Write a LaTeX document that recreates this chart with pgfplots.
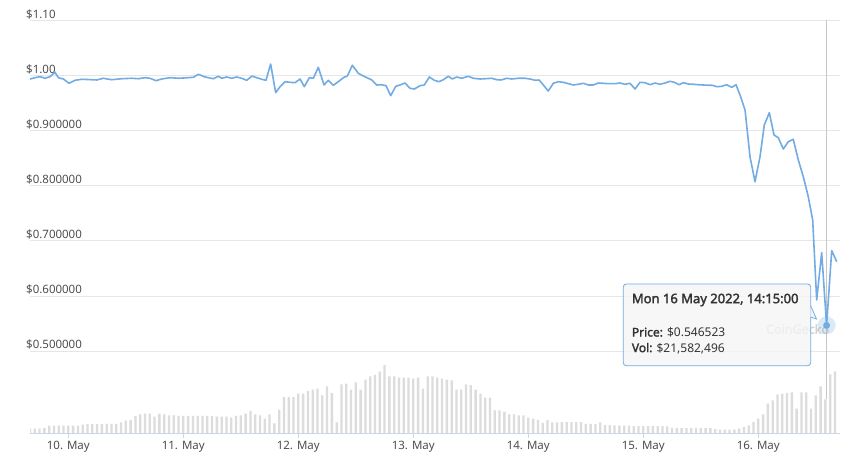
\documentclass[border=0pt]{standalone}
\usepackage{pgfplots}
\pgfplotsset{compat=1.18}
\usepackage{fontspec}
\setmainfont{Noto Sans}[AutoFakeBold=2.2]
\definecolor{linecol}{RGB}{115,172,226}
\definecolor{gridcol}{HTML}{E6E6E6}
\definecolor{axiscol}{HTML}{CCD6EB}
\definecolor{barcol}{RGB}{220,220,220}
\definecolor{labelcol}{HTML}{4D4D4D}
\definecolor{textcol}{HTML}{333333}
\definecolor{tipbg}{HTML}{F5F5F5}

\pgfplotstableread{
h vol
-8 3.3
-7 3.3
-6 3.3
-5 3.6
-4 5.2
-3 5.2
-2 5.2
-1 5.2
0 5.2
1 5.2
2 5.2
3 5.8
4 6.1
5 6.1
6 6.1
7 6.3
8 6.4
9 6.4
10 6.4
11 7.3
12 8.3
13 8.6
14 11.1
15 12.3
16 12.7
17 12.7
18 10.8
19 12.7
20 12.3
21 11.7
22 11.7
23 11.4
24 11.4
25 11.4
26 11.4
27 11.4
28 11.4
29 11.4
30 11.4
31 10.8
32 10.8
33 10.8
34 10.2
35 11.4
36 11.7
37 12.7
38 14.4
39 12.3
40 11.7
41 9.6
42 12.3
43 6.7
44 15.2
45 23.1
46 23.1
47 23.1
48 25.2
49 25.2
50 26.9
51 27.7
52 28.3
53 24.2
54 29.8
55 25.6
56 7.3
57 31.1
58 31.5
59 27.7
60 32.3
61 27.7
62 34.0
63 36.1
64 36.9
65 39.0
66 43.0
67 36.1
68 36.1
69 35.2
70 35.2
71 35.2
72 34.6
73 35.2
74 28.3
75 36.1
76 36.1
77 35.2
78 34.6
79 34.0
80 33.6
81 27.7
82 27.7
83 31.1
84 30.5
85 27.7
86 25.2
87 22.7
88 22.7
89 14.8
90 14.8
91 13.8
92 12.3
93 12.3
94 11.7
95 11.7
96 10.2
97 9.6
98 8.9
99 6.9
100 8.6
101 7.3
102 7.3
103 7.5
104 7.5
105 7.5
106 7.5
107 7.5
108 6.4
109 6.4
110 6.1
111 7.3
112 5.6
113 5.6
114 5.4
115 5.2
116 5.2
117 5.2
118 5.0
119 5.0
120 5.0
121 5.0
122 5.0
123 5.0
124 5.0
125 4.8
126 3.9
127 3.6
128 3.6
129 3.6
130 3.6
131 3.6
132 3.6
133 3.6
134 3.6
135 3.1
136 2.7
137 2.7
138 2.7
139 2.7
140 3.3
141 4.4
142 5.4
143 7.5
144 9.6
145 12.3
146 19.0
147 21.1
148 24.8
149 25.2
150 25.6
151 26.1
152 15.8
153 26.1
154 26.1
155 15.8
156 24.2
157 29.8
158 21.58
159 37.3
160 39.2
}\voldata

\pgfplotstableread{
h price
-7.99 0.9938
-6.95 0.9962
-5.91 0.9980
-4.86 0.9951
-3.82 0.9980
-2.78 1.0060
-2.09 0.9962
-1.04 0.9938
0.15 0.9860
1.40 0.9914
2.80 0.9933
4.88 0.9925
5.93 0.9920
7.30 0.9951
9.06 0.9925
11.14 0.9943
13.23 0.9951
14.61 0.9943
16.01 0.9962
17.05 0.9951
18.30 0.9907
19.49 0.9938
21.23 0.9962
22.96 0.9951
25.04 0.9962
26.09 0.9969
27.13 1.0023
28.53 0.9974
30.26 0.9943
31.30 0.9987
32.01 0.9951
33.06 0.9974
34.10 0.9951
35.14 0.9974
36.19 0.9951
37.23 0.9914
38.30 0.9990
39.32 0.9962
40.36 0.9933
41.26 0.9914
42.22 1.0210
43.28 0.9689
44.18 0.9798
45.22 0.9889
46.27 0.9878
47.31 0.9871
48.36 0.9938
49.25 0.9798
50.30 0.9962
51.13 0.9951
52.17 1.0150
53.36 0.9829
54.26 0.9914
55.30 0.9823
56.35 0.9889
57.39 0.9962
58.23 0.9992
59.27 1.0187
60.52 1.0041
61.56 0.9992
62.61 0.9951
63.32 0.9920
64.36 0.9829
65.41 0.9834
66.30 0.9816
67.28 0.9635
68.33 0.9805
69.22 0.9829
70.27 0.9865
71.31 0.9769
72.21 0.9756
73.40 0.9816
74.29 0.9829
75.34 0.9974
76.38 0.9914
77.36 0.9889
78.26 0.9925
79.30 0.9987
80.14 0.9938
81.06 0.9974
82.10 0.9951
83.48 0.9987
84.52 0.9951
85.92 0.9938
86.96 0.9943
88.36 0.9951
89.40 0.9925
90.30 0.9920
91.49 0.9951
92.53 0.9938
93.91 0.9951
95.31 0.9951
96.35 0.9938
97.40 0.9914
98.23 0.9920
99.13 0.9829
100.17 0.9720
101.22 0.9860
102.26 0.9889
103.30 0.9878
104.35 0.9853
105.39 0.9829
106.43 0.9842
107.48 0.9860
108.52 0.9829
109.56 0.9829
110.61 0.9865
111.65 0.9860
112.69 0.9853
114.09 0.9853
115.14 0.9865
116.18 0.9842
117.22 0.9860
118.27 0.9756
119.31 0.9878
120.35 0.9871
121.40 0.9834
122.44 0.9865
123.48 0.9842
124.53 0.9865
125.57 0.9896
126.47 0.9878
127.45 0.9834
128.35 0.9871
129.39 0.9847
130.43 0.9842
131.48 0.9834
132.52 0.9829
133.56 0.9824
134.40 0.9824
135.32 0.9798
136.36 0.9805
137.40 0.9834
138.45 0.9787
139.35 0.9834
140.18 0.9648
141.23 0.9375
142.27 0.8527
143.31 0.8073
144.36 0.8527
145.25 0.9103
146.30 0.9326
147.28 0.8921
148.17 0.8872
149.22 0.8667
150.26 0.8800
151.30 0.8843
152.35 0.8467
153.39 0.8164
154.43 0.7801
155.35 0.7378
156.18 0.5926
157.23 0.6784
158.25 0.546523
159.32 0.6821
160.37 0.6621
}\pricedata

\begin{document}
\begin{tikzpicture}[x=1pt,y=1pt]
\useasboundingbox (0,0) rectangle (854,473);
\fill[white] (0,0) rectangle (854,473);

% volume bars
\begin{axis}[
  at={(30pt,39pt)}, anchor=south west,
  width=810pt, height=413.5pt, scale only axis,
  xmin=-8, xmax=161.05, ymin=0, ymax=258.6,
  hide axis, ybar, bar width=2.3pt, bar shift=0pt,
]
\addplot[fill=barcol, draw=none] table[x=h, y=vol] {\voldata};
\end{axis}

% watermark
\node[anchor=west, inner sep=0pt, text=gray!35, font=\bfseries\fontsize{12.5}{14}\selectfont] at (766,144) {CoinGecko};

% price
\begin{axis}[
  at={(30pt,39pt)}, anchor=south west,
  width=810pt, height=413.5pt, scale only axis,
  xmin=-8, xmax=161.05, ymin=0.3493, ymax=1.10,
  axis x line=bottom, axis y line=left,
  x axis line style={draw=axiscol, line width=1pt, -},
  y axis line style={draw=none},
  tick align=outside, major tick length=4pt,
  xtick={0,24,48,72,96,120,144},
  xticklabels={10. May,11. May,12. May,13. May,14. May,15. May,16. May},
  xtick style={draw=axiscol, line width=1pt},
  ytick={0.5,0.6,0.7,0.8,0.9,1.0,1.1},
  yticklabels={\$0.500000,\$0.600000,\$0.700000,\$0.800000,\$0.900000,\$1.00,\$1.10},
  ytick style={draw=none},
  ymajorgrids, grid style={draw=gridcol, line width=0.8pt},
  xticklabel style={font=\fontsize{11.5}{13}\selectfont, text=labelcol},
  yticklabel style={font=\fontsize{11.5}{13}\selectfont, text=labelcol, anchor=south west, inner xsep=0pt, inner ysep=1.5pt},
  clip=false,
]
\draw[gray!45, line width=1pt] (axis cs:158.25,1.10) -- (axis cs:158.25,0.4123);
\addplot[linecol, line width=1.6pt, line join=round] table[x=h, y=price] {\pricedata};
\addplot[color=linecol, only marks, mark=*, mark size=9pt, mark options={fill=linecol, draw opacity=0, fill opacity=0.25}] coordinates {(158.25,0.546523)};
\addplot[color=linecol, only marks, mark=*, mark size=3.5pt, mark options={fill=linecol, draw opacity=0}] coordinates {(158.25,0.546523)};
\end{axis}

% tooltip
\filldraw[fill=tipbg, fill opacity=0.8, draw=linecol, line width=0.8pt, rounded corners=3pt] (623.3,107.3) rectangle (810.7,189);
\fill[tipbg, fill opacity=0.8] (810.3,167) -- (816.5,154) -- (810.3,156) -- cycle;
\draw[linecol, line width=0.8pt] (810.7,167) -- (816.5,154) -- (810.7,156);
\node[anchor=west, inner sep=0pt, text=textcol, font=\bfseries\fontsize{13}{15}\selectfont] at (631.7,173) {Mon 16 May 2022, 14:15:00};
\node[anchor=west, inner sep=0pt, text=textcol, font=\fontsize{12}{14}\selectfont] at (631.7,140.7) {\textbf{Price:} \$0.546523};
\node[anchor=west, inner sep=0pt, text=textcol, font=\fontsize{12}{14}\selectfont] at (631.7,124.7) {\textbf{Vol:} \$21,582,496};
\end{tikzpicture}
\end{document}
